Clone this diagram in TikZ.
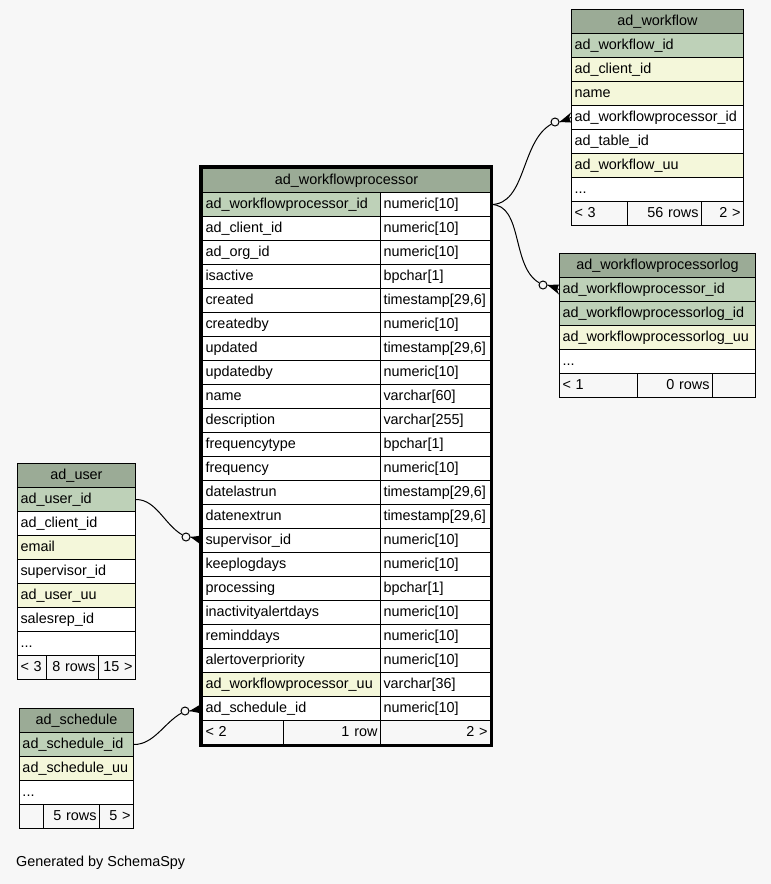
\documentclass[tikz,border=0pt]{standalone}
\usepackage{fontspec}
\setmainfont{Liberation Sans}
\usetikzlibrary{calc}
\definecolor{bg}{HTML}{F7F7F7}
\definecolor{hdr}{HTML}{9BAB96}
\definecolor{pk}{HTML}{BED1B8}
\definecolor{idx}{HTML}{F4F7DA}
\definecolor{wh}{HTML}{FFFFFF}
\newcommand\tcell[7]{\pgfmathsetmacro\tw{#4-6}\node[cell, fill=#5, text width=\tw pt, align=#6] (#1) at (#2,#3) {\mbox{#7}};}
\newcommand\crowto[2]{%
  \fill ($(#1.east)$) -- ($(#2.west)+(0,-5)$) -- ($(#2.west)+(-2,0)$) -- ($(#2.west)+(0,5)$) -- cycle;
  \draw[conn] (#1.east) -- (#2.west);}
\begin{document}
\begin{tikzpicture}[x=1pt,y=-1pt,
  cell/.style={draw=black, line width=1pt, anchor=north west, minimum height=24pt,
    inner xsep=3pt, inner ysep=0pt, font=\fontsize{14.4}{16}\selectfont,
    text height=10.5pt, text depth=3pt},
  conn/.style={line width=1pt},
  odot/.style={circle, draw, line width=1pt, fill=bg, minimum size=8pt, inner sep=0pt}]
\fill[bg] (0,0) rectangle (771,884);
\useasboundingbox (0,0) rectangle (771,884);

% ---------- ad_workflowprocessor ----------
\tcell{mh}{202}{168}{288}{hdr}{center}{ad\_workflowprocessor}
\foreach \i/\n/\t/\c in {
  0/ad\_workflowprocessor\_id/numeric[10]/pk,
  1/ad\_client\_id/numeric[10]/wh,
  2/ad\_org\_id/numeric[10]/wh,
  3/isactive/bpchar[1]/wh,
  4/created/{timestamp[29,6]}/wh,
  5/createdby/numeric[10]/wh,
  6/updated/{timestamp[29,6]}/wh,
  7/updatedby/numeric[10]/wh,
  8/name/varchar[60]/wh,
  9/description/varchar[255]/wh,
  10/frequencytype/bpchar[1]/wh,
  11/frequency/numeric[10]/wh,
  12/datelastrun/{timestamp[29,6]}/wh,
  13/datenextrun/{timestamp[29,6]}/wh,
  14/supervisor\_id/numeric[10]/wh,
  15/keeplogdays/numeric[10]/wh,
  16/processing/bpchar[1]/wh,
  17/inactivityalertdays/numeric[10]/wh,
  18/reminddays/numeric[10]/wh,
  19/alertoverpriority/numeric[10]/wh,
  20/ad\_workflowprocessor\_uu/varchar[36]/idx,
  21/ad\_schedule\_id/numeric[10]/wh}{
  \pgfmathsetmacro\yy{192+24*\i}
  \tcell{p\i}{202}{\yy}{178}{\c}{left}{\n}
  \tcell{q\i}{380}{\yy}{110}{wh}{left}{\t}
}
\tcell{mf1}{202}{720}{81}{bg}{left}{< 2}
\tcell{mf2}{283}{720}{97}{bg}{right}{1 row}
\tcell{mf3}{380}{720}{110}{bg}{right}{2 >}
\draw[line width=3pt] (200.5,166.5) rectangle (491.5,745.5);

% ---------- ad_workflow ----------
\tcell{wh}{571}{9}{172}{hdr}{center}{ad\_workflow}
\tcell{w0}{571}{33}{172}{pk}{left}{ad\_workflow\_id}
\tcell{w1}{571}{57}{172}{idx}{left}{ad\_client\_id}
\tcell{w2}{571}{81}{172}{idx}{left}{name}
\tcell{w3}{571}{105}{172}{wh}{left}{ad\_workflowprocessor\_id}
\tcell{w4}{571}{129}{172}{wh}{left}{ad\_table\_id}
\tcell{w5}{571}{153}{172}{idx}{left}{ad\_workflow\_uu}
\tcell{w6}{571}{177}{172}{wh}{left}{...}
\tcell{wf1}{571}{201}{56}{bg}{left}{< 3}
\tcell{wf2}{627}{201}{74}{bg}{right}{56 rows}
\tcell{wf3}{701}{201}{42}{bg}{right}{2 >}

% ---------- ad_workflowprocessorlog ----------
\tcell{lh}{559}{253}{196}{hdr}{center}{ad\_workflowprocessorlog}
\tcell{l0}{559}{277}{196}{pk}{left}{ad\_workflowprocessor\_id}
\tcell{l1}{559}{301}{196}{pk}{left}{ad\_workflowprocessorlog\_id}
\tcell{l2}{559}{325}{196}{idx}{left}{ad\_workflowprocessorlog\_uu}
\tcell{l3}{559}{349}{196}{wh}{left}{...}
\tcell{lf1}{559}{373}{78}{bg}{left}{< 1}
\tcell{lf2}{637}{373}{75}{bg}{right}{0 rows}
\tcell{lf3}{712}{373}{43}{bg}{right}{}

% ---------- ad_user ----------
\tcell{uh}{17}{463}{118}{hdr}{center}{ad\_user}
\tcell{u0}{17}{487}{118}{pk}{left}{ad\_user\_id}
\tcell{u1}{17}{511}{118}{wh}{left}{ad\_client\_id}
\tcell{u2}{17}{535}{118}{idx}{left}{email}
\tcell{u3}{17}{559}{118}{wh}{left}{supervisor\_id}
\tcell{u4}{17}{583}{118}{idx}{left}{ad\_user\_uu}
\tcell{u5}{17}{607}{118}{wh}{left}{salesrep\_id}
\tcell{u6}{17}{631}{118}{wh}{left}{...}
\tcell{uf1}{17}{655}{29}{bg}{left}{< 3}
\tcell{uf2}{46}{655}{52}{bg}{right}{8 rows}
\tcell{uf3}{98}{655}{37}{bg}{right}{15 >}

% ---------- ad_schedule ----------
\tcell{sh}{19}{708}{114}{hdr}{center}{ad\_schedule}
\tcell{s0}{19}{732}{114}{pk}{left}{ad\_schedule\_id}
\tcell{s1}{19}{756}{114}{idx}{left}{ad\_schedule\_uu}
\tcell{s2}{19}{780}{114}{wh}{left}{...}
\tcell{sf1}{19}{804}{24}{bg}{left}{}
\tcell{sf2}{43}{804}{56}{bg}{right}{5 rows}
\tcell{sf3}{99}{804}{34}{bg}{right}{5 >}

% ---------- connectors ----------
\node[odot] (c1) at (555,122) {};
\node[odot] (c2) at (543,285) {};
\node[odot] (c3) at (186,537) {};
\node[odot] (c4) at (185,711) {};
\draw[conn] (q0.east) to[out=0,in=210,looseness=0.9] (c1);
\draw[conn] (q0.east) to[out=0,in=150,looseness=0.9] (c2);
\draw[conn] (u0.east) to[out=0,in=150,looseness=0.9] (c3);
\draw[conn] (s0.east) to[out=0,in=210,looseness=0.9] (c4);
\crowto{c1}{w3}
\crowto{c2}{l0}
\crowto{c3}{p14}
\crowto{c4}{p21}

\node[anchor=west, inner sep=0pt, font=\fontsize{14.4}{16}\selectfont] (gen) at (16,863) {Generated by SchemaSpy};
\end{tikzpicture}
\end{document}
